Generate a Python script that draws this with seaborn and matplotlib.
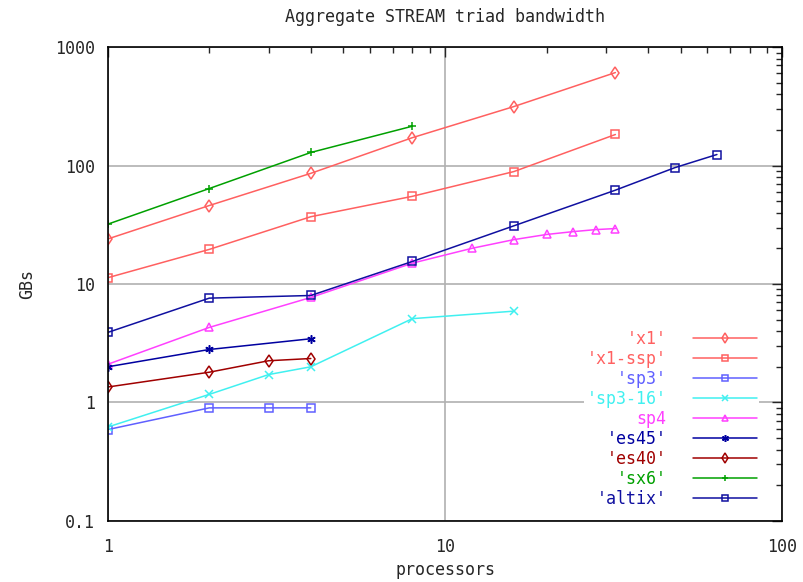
import numpy as np
import pandas as pd
import seaborn as sns
import matplotlib.pyplot as plt
from matplotlib.ticker import FixedLocator, LogLocator, NullFormatter

# data
x1_p = [1, 2, 4, 8, 16, 32]
x1_bw = [24, 46, 86, 172, 315, 610]
x1ssp_p = [1, 2, 4, 8, 16, 32]
x1ssp_bw = [11.3, 19.6, 37, 55, 89, 183]
sp3_p = [1, 2, 3, 4]
sp3_bw = [0.59, 0.9, 0.9, 0.9]
sp316_p = [1, 2, 3, 4, 8, 16]
sp316_bw = [0.62, 1.17, 1.72, 2.0, 5.1, 5.9]
sp4_p = [1, 2, 4, 8, 12, 16, 20, 24, 28, 32]
sp4_bw = [2.1, 4.3, 7.7, 15, 20, 23.7, 26.2, 27.7, 28.8, 29.4]
es45_p = [1, 2, 4]
es45_bw = [2.0, 2.8, 3.45]
es40_p = [1, 2, 3, 4]
es40_bw = [1.35, 1.8, 2.25, 2.35]
sx6_p = [1, 2, 4, 8]
sx6_bw = [32, 64, 129, 215]
altix_p = [1, 2, 4, 8, 16, 32, 48, 64]
altix_bw = [3.9, 7.6, 8.0, 15.5, 31, 62, 96, 124]

series = [
    ("'x1'", x1_p, x1_bw, '#ff6060', 'd'),
    ("'x1-ssp'", x1ssp_p, x1ssp_bw, '#ff6060', 's'),
    ("'sp3'", sp3_p, sp3_bw, '#6060ff', 's'),
    ("'sp3-16'", sp316_p, sp316_bw, '#40f0f0', 'x'),
    ("sp4", sp4_p, sp4_bw, '#ff40ff', '^'),
    ("'es45'", es45_p, es45_bw, '#0000a0', (6, 2, 0)),
    ("'es40'", es40_p, es40_bw, '#a00000', 'd'),
    ("'sx6'", sx6_p, sx6_bw, '#00a000', '+'),
    ("'altix'", altix_p, altix_bw, '#1010a0', 's'),
]

sns.set_style('white')
plt.rcParams['font.family'] = ['DejaVu Sans Mono']

fig = plt.figure(figsize=(8.04, 5.82), dpi=100)
ax = fig.add_axes([0.134, 0.105, 0.839, 0.814])

for name, p, bw, col, mk in series:
    df = pd.DataFrame({'processors': p, 'GBs': bw})
    sns.lineplot(data=df, x='processors', y='GBs', ax=ax, color=col, marker=mk,
                 markersize=6, markerfacecolor='none', markeredgecolor=col,
                 markeredgewidth=1.1, linewidth=1.1, label=name)

ax.set_xscale('log')
ax.set_yscale('log')
ax.set_xlim(1, 100)
ax.set_ylim(0.1, 1000)

ax.xaxis.set_major_locator(FixedLocator([1, 10, 100]))
ax.set_xticklabels(['1', '10', '100'])
ax.yaxis.set_major_locator(FixedLocator([0.1, 1, 10, 100, 1000]))
ax.set_yticklabels(['0.1', '1', '10', '100', '1000'])
for a in (ax.xaxis, ax.yaxis):
    a.set_minor_locator(LogLocator(base=10, subs=np.arange(2, 10)))
    a.set_minor_formatter(NullFormatter())
ax.tick_params(which='both', direction='in', top=True, right=True, labelsize=12)
ax.tick_params(axis='x', which='major', pad=12)
ax.tick_params(axis='y', which='major', pad=9)
ax.tick_params(which='major', length=7, width=1)
ax.tick_params(which='minor', length=4, width=1)
ax.grid(True, which='major', color='#b0b0b0', linewidth=1.2)
for s in ax.spines.values():
    s.set_color('black')
    s.set_linewidth(1.2)

ax.set_title('Aggregate STREAM triad bandwidth', fontsize=12, pad=18)
ax.set_xlabel('processors', fontsize=12, labelpad=4)
ax.set_ylabel('GBs', fontsize=12, labelpad=14)

leg = ax.legend(loc='lower right', bbox_to_anchor=(0.978, 0.004), markerfirst=False,
                frameon=True, fancybox=False, facecolor='white', edgecolor='none',
                framealpha=1, fontsize=12, handlelength=3.8, labelspacing=0.12,
                borderpad=0.15, handletextpad=1.6, labelcolor='linecolor')
for h in leg.legend_handles:
    h.set_markersize(5)

fig.savefig('out.png', dpi=100)
